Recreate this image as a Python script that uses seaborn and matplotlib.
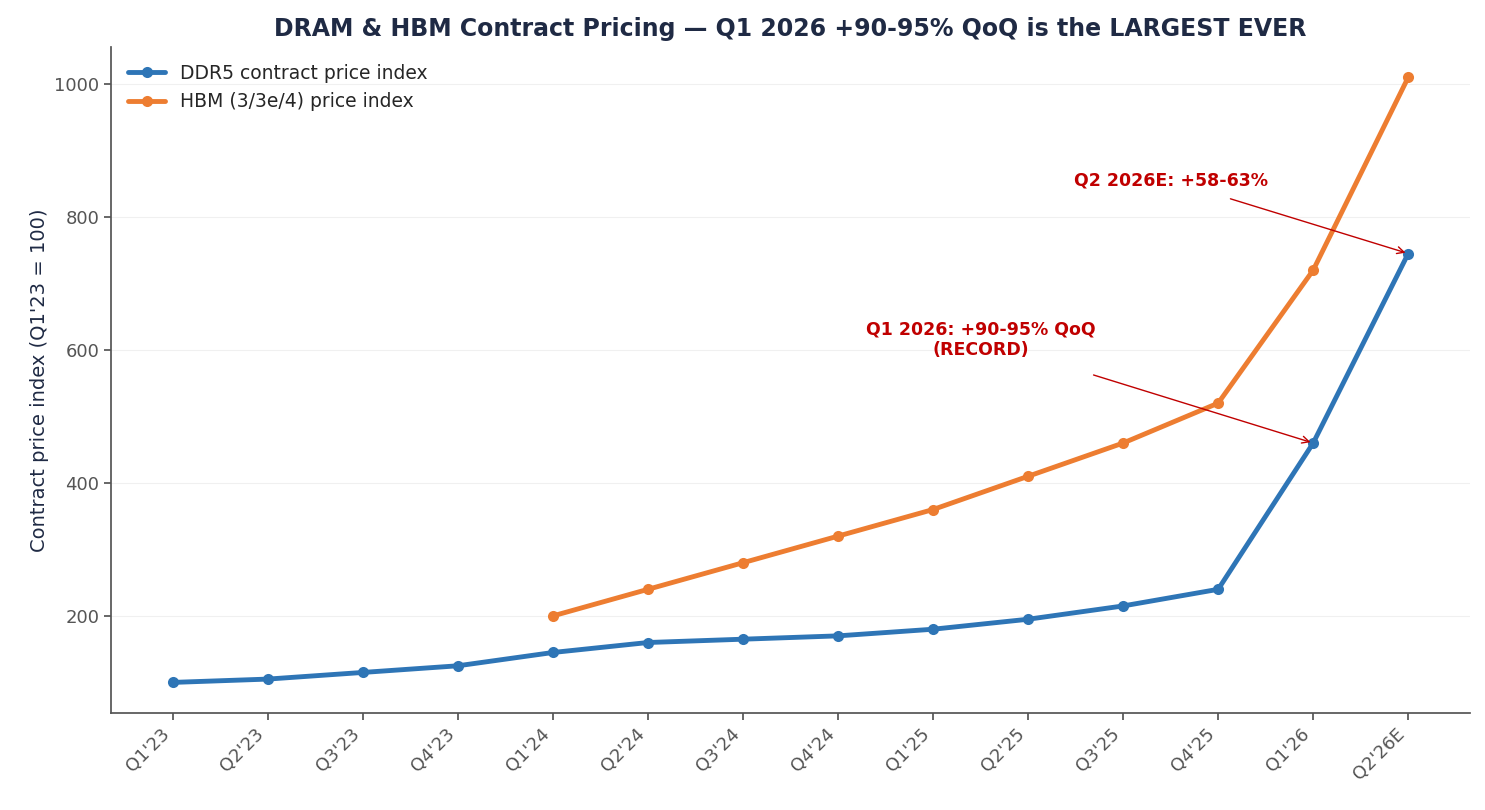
import matplotlib
matplotlib.use("Agg")
import matplotlib.pyplot as plt
import seaborn as sns
import pandas as pd
import numpy as np

quarters = ["Q1'23","Q2'23","Q3'23","Q4'23","Q1'24","Q2'24","Q3'24","Q4'24","Q1'25","Q2'25","Q3'25","Q4'25","Q1'26","Q2'26E"]
ddr5 = [100,105,115,125,145,160,165,170,180,195,215,240,460,745]
hbm = [np.nan]*4 + [200,240,280,320,360,410,460,520,720,1010]

sns.set_theme(style="white")
plt.rcParams['font.family'] = ['DejaVu Sans']
fig = plt.figure(figsize=(14.85, 8.1), dpi=100)
ax = fig.add_axes([111/1485, 1-713/810, (1470-111)/1485, (713-47)/810])

x = np.arange(len(quarters))
df = pd.DataFrame({"x": x, "DDR5 contract price index": ddr5, "HBM (3/3e/4) price index": hbm})
sns.lineplot(data=df, x="x", y="DDR5 contract price index", ax=ax, color="#2e75b6", lw=3.5,
             marker="o", markersize=8, markeredgewidth=0, label="DDR5 contract price index")
sns.lineplot(data=df.dropna(), x="x", y="HBM (3/3e/4) price index", ax=ax, color="#ed7d31", lw=3.5,
             marker="o", markersize=8, markeredgewidth=0, label="HBM (3/3e/4) price index")

ax.set_xlim(-0.65, 13.65)
ax.set_ylim(54, 1055.6)
ax.set_xticks(x)
ax.set_xticklabels(quarters, rotation=45, ha="right", fontsize=13, color="#555555")
ax.set_yticks([200, 400, 600, 800, 1000])
ax.tick_params(axis="y", labelsize=13, labelcolor="#555555", left=True, length=5, color="#555555")
ax.tick_params(axis="x", bottom=True, length=5, color="#555555")
ax.set_xlabel("")
ax.set_ylabel("Contract price index (Q1'23 = 100)", fontsize=14, color="#1f2a44")
ax.grid(axis="y", color="#f0f0f0", lw=0.8)
for s in ["top", "right"]:
    ax.spines[s].set_visible(False)
for s in ["left", "bottom"]:
    ax.spines[s].set_color("#555555")
ax.set_title("DRAM & HBM Contract Pricing — Q1 2026 +90-95% QoQ is the LARGEST EVER",
             fontsize=17, fontweight="bold", color="#1f2a44", pad=8)
ax.legend(loc="upper left", fontsize=13.5, frameon=False)

ax.annotate("Q1 2026: +90-95% QoQ\n(RECORD)", xy=(12, 460), xytext=(8.5, 615),
            ha="center", va="center", fontsize=12.5, fontweight="bold", color="#c00000",
            arrowprops=dict(arrowstyle="->", color="#c00000", lw=1, shrinkA=30))
ax.annotate("Q2 2026E: +58-63%", xy=(13, 745), xytext=(10.5, 855),
            ha="center", va="center", fontsize=12.5, fontweight="bold", color="#c00000",
            arrowprops=dict(arrowstyle="->", color="#c00000", lw=1, shrinkA=15))

fig.savefig("out.png", dpi=100)
